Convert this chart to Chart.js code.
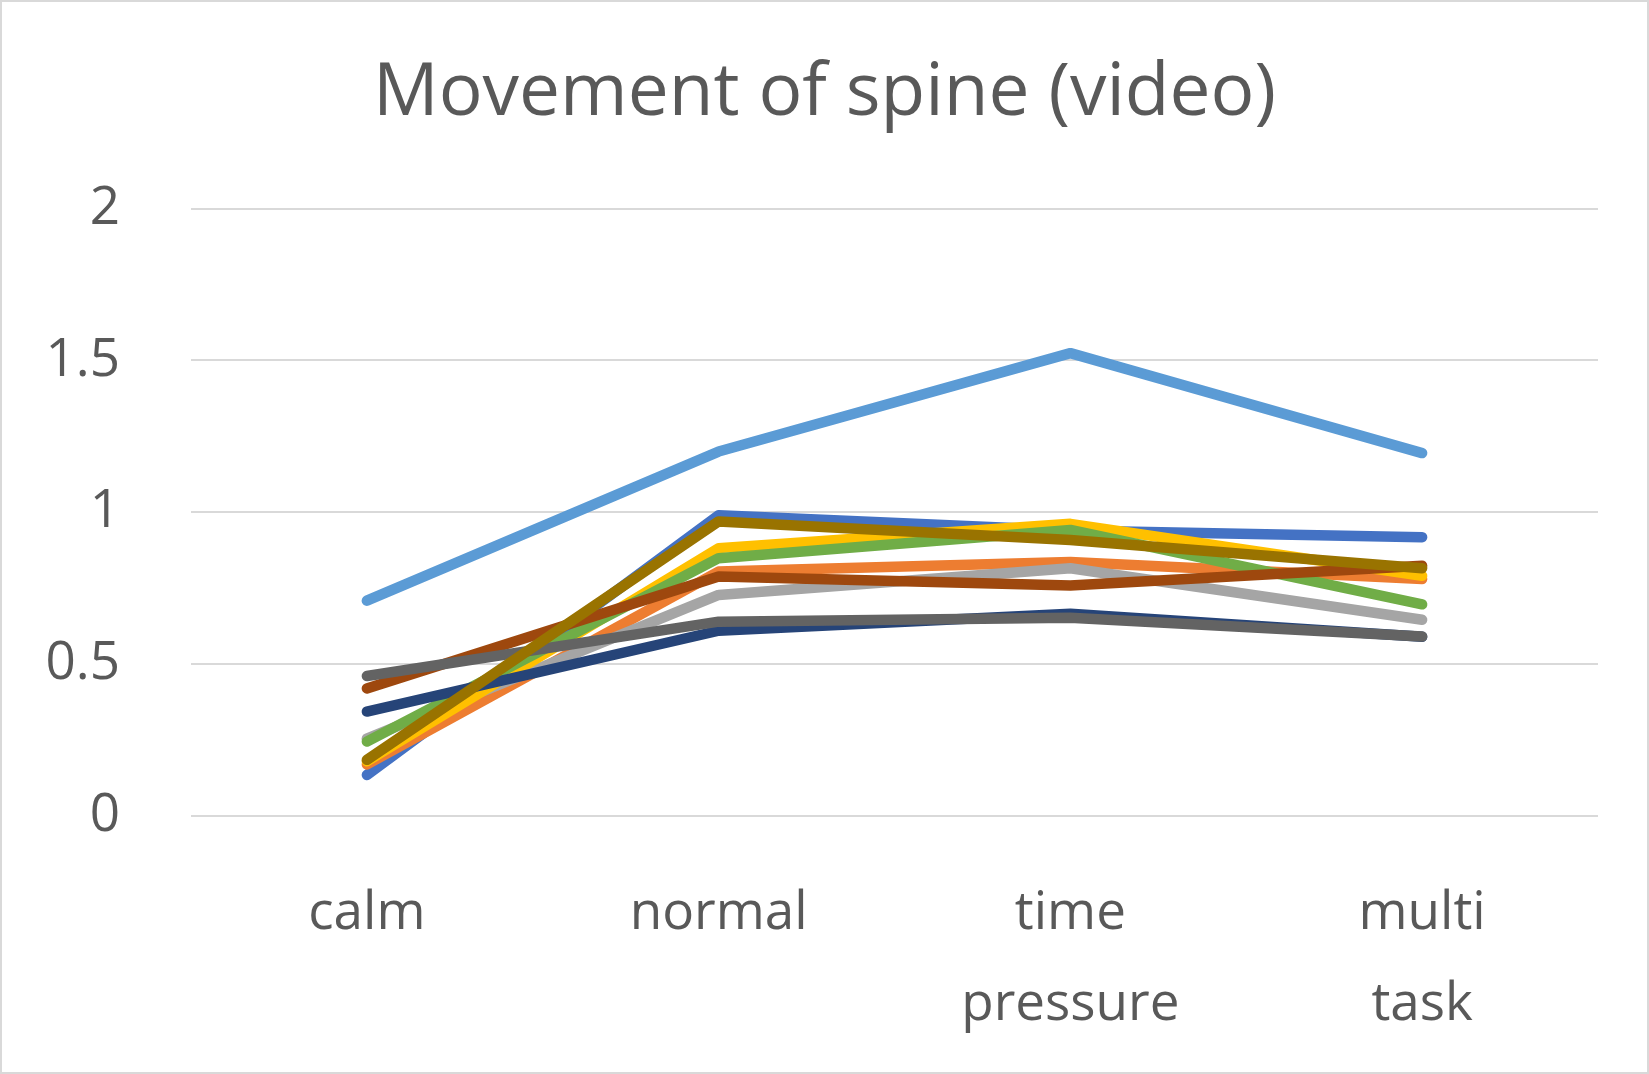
<!DOCTYPE html>
<html>
<head>
<meta charset="utf-8">
<title>Movement of spine (video)</title>
<script src="https://cdn.jsdelivr.net/npm/chart.js@4.4.1/dist/chart.umd.min.js"></script>
<style>
    body { margin: 0; background: #ffffff; }
    canvas { display: block; }
</style>
</head>
<body>
<canvas id="spine-chart" width="1649" height="1074"></canvas>
<script>
const categories = [['calm'], ['normal'], ['time', 'pressure'], ['multi', 'task']];
const yTicks = [0, 0.5, 1, 1.5, 2];

// one array per subject
const series1 = [0.135, 0.99, 0.94, 0.918];
const series2 = [0.17, 0.805, 0.836, 0.78];
const series3 = [0.255, 0.728, 0.816, 0.646];
const series4 = [0.18, 0.882, 0.962, 0.791];
const series5 = [0.709, 1.2, 1.524, 1.195];
const series6 = [0.245, 0.849, 0.942, 0.697];
const series7 = [0.344, 0.61, 0.666, 0.59];
const series8 = [0.42, 0.789, 0.759, 0.824];
const series9 = [0.461, 0.64, 0.653, 0.591];
const series10 = [0.185, 0.97, 0.909, 0.816];

const allSeries = [series1, series2, series3, series4, series5, series6, series7, series8, series9, series10];
const colours = ['#4472C4', '#ED7D31', '#A5A5A5', '#FFC000', '#5B9BD5', '#70AD47', '#264478', '#9E480E', '#636363', '#997300'];

const textColour = '#595959';
const gridColour = '#D9D9D9';

const frame = {
    id: 'frame',
    afterDraw(chart) {
        const ctx = chart.ctx;
        ctx.save();
        ctx.strokeStyle = gridColour;
        ctx.lineWidth = 2;
        ctx.strokeRect(1, 1, chart.width - 2, chart.height - 2);
        ctx.restore();
    }
};

function loadSpineChart() {
    const ctx = document.getElementById('spine-chart').getContext('2d');
    const datasets = allSeries.map((data, i) => ({
        label: 'Series ' + (i + 1),
        data: data,
        borderColor: colours[i],
        backgroundColor: colours[i],
        borderWidth: 10.5,
        borderCapStyle: 'round',
        borderJoinStyle: 'round',
        pointRadius: 0,
        tension: 0,
        order: allSeries.length - i // later series sit on top, like Excel
    }));

    new Chart(ctx, {
        type: 'line',
        data: {
            labels: categories,
            datasets: datasets
        },
        options: {
            responsive: false,
            animation: false,
            layout: { padding: 0 },
            plugins: {
                legend: { display: false },
                tooltip: { enabled: false },
                title: {
                    display: true,
                    text: 'Movement of spine (video)',
                    color: textColour,
                    font: { family: 'Open Sans', size: 73, weight: 'normal', lineHeight: 1.2 },
                    padding: { top: 50, bottom: 71 }
                }
            },
            scales: {
                x: {
                    offset: true,
                    grid: { display: false, drawTicks: false },
                    border: { display: false },
                    ticks: {
                        color: textColour,
                        padding: 52,
                        maxRotation: 0,
                        autoSkip: false,
                        font: { family: 'Open Sans', size: 53, lineHeight: 1.72 }
                    },
                    afterFit: (scale) => { scale.height = 258; }
                },
                y: {
                    min: 0,
                    max: 2,
                    afterBuildTicks: (scale) => { scale.ticks = yTicks.map((v) => ({ value: v })); },
                    grid: { color: gridColour, lineWidth: 2, drawTicks: false },
                    border: { display: false },
                    ticks: {
                        color: textColour,
                        padding: 71,
                        font: { family: 'Open Sans', size: 53 },
                        callback: (v) => String(v)
                    },
                    afterFit: (scale) => { scale.width = 191; }
                },
                // empty axis that only keeps the right margin, so the title stays centred on the page
                yRight: {
                    position: 'right',
                    min: 0,
                    max: 2,
                    grid: { display: false, drawTicks: false },
                    border: { display: false },
                    ticks: { display: false },
                    afterFit: (scale) => { scale.width = 51; }
                }
            }
        },
        plugins: [frame]
    });
}

window.addEventListener('load', () => {
    loadSpineChart();
});
</script>
</body>
</html>
